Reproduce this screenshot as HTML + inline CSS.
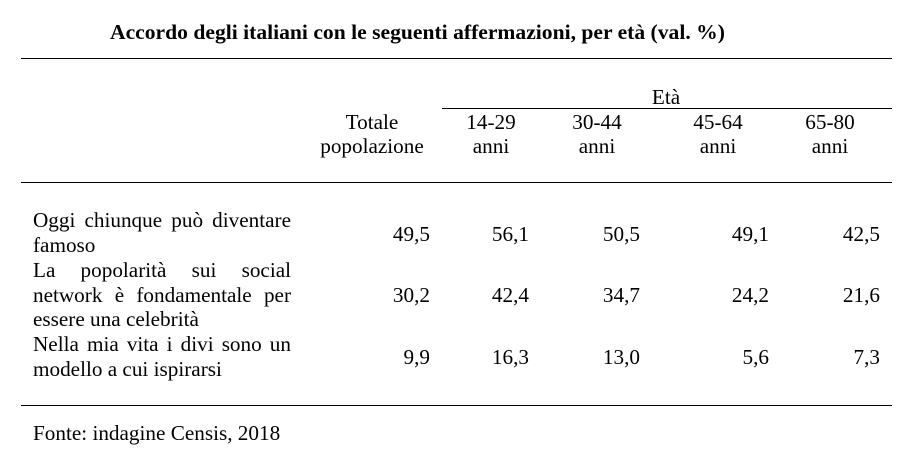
<!DOCTYPE html>
<html><head><meta charset="utf-8"><style>
body{margin:0;width:920px;height:464px;background:#fff;position:relative;font-family:"Liberation Serif",serif;font-size:21.2px;color:#000;overflow:hidden}
.a{position:absolute;white-space:nowrap;line-height:22px}
.h{position:absolute;height:1px;background:#000}
.c{text-align:center;transform:translateX(-50%)}
.r{text-align:right;transform:translateX(-100%)}
.j{position:absolute;left:33px;width:258px;text-align:justify;text-align-last:left;line-height:24.5px}
</style></head><body>
<div class="a" style="left:110px;top:21px;font-weight:bold;font-size:21.6px">Accordo degli italiani con le seguenti affermazioni, per età (val. %)</div>
<div class="h" style="left:21px;top:58px;width:871px"></div>
<div class="h" style="left:442px;top:108px;width:450px"></div>
<div class="h" style="left:21px;top:182px;width:871px"></div>
<div class="h" style="left:21px;top:405px;width:871px"></div>
<div class="a c" style="left:666px;top:86px">Età</div>
<div class="a c" style="left:372px;top:110px;line-height:24px">Totale<br>popolazione</div>
<div class="a c" style="left:491px;top:110px;line-height:24px">14-29<br>anni</div>
<div class="a c" style="left:597px;top:110px;line-height:24px">30-44<br>anni</div>
<div class="a c" style="left:718px;top:110px;line-height:24px">45-64<br>anni</div>
<div class="a c" style="left:830px;top:110px;line-height:24px">65-80<br>anni</div>
<div class="j" style="top:208px">Oggi chiunque può diventare famoso</div>
<div class="j" style="top:258px">La popolarità sui social network è fondamentale per essere una celebrità</div>
<div class="j" style="top:332px">Nella mia vita i divi sono un modello a cui ispirarsi</div>
<div class="a r" style="left:430px;top:223px">49,5</div>
<div class="a r" style="left:529px;top:223px">56,1</div>
<div class="a r" style="left:640px;top:223px">50,5</div>
<div class="a r" style="left:769px;top:223px">49,1</div>
<div class="a r" style="left:880px;top:223px">42,5</div>
<div class="a r" style="left:430px;top:284px">30,2</div>
<div class="a r" style="left:529px;top:284px">42,4</div>
<div class="a r" style="left:640px;top:284px">34,7</div>
<div class="a r" style="left:769px;top:284px">24,2</div>
<div class="a r" style="left:880px;top:284px">21,6</div>
<div class="a r" style="left:430px;top:346px">9,9</div>
<div class="a r" style="left:529px;top:346px">16,3</div>
<div class="a r" style="left:640px;top:346px">13,0</div>
<div class="a r" style="left:769px;top:346px">5,6</div>
<div class="a r" style="left:880px;top:346px">7,3</div>
<div class="a" style="left:33px;top:422px">Fonte: indagine Censis, 2018</div>
</body></html>
